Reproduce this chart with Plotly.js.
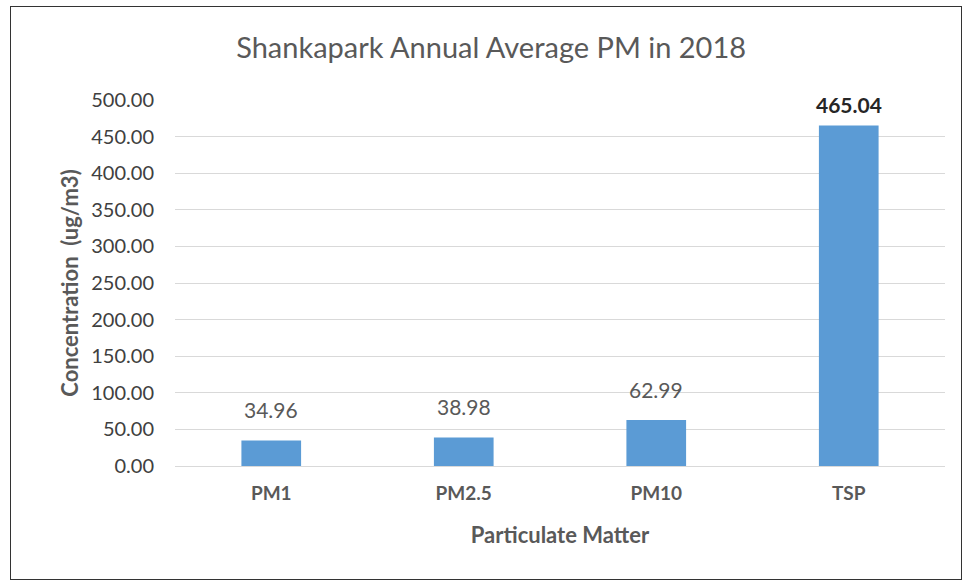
<!DOCTYPE html>
<html>
<head>
<meta charset="utf-8">
<script src="https://cdn.plot.ly/plotly-3.0.1.min.js"></script>
<style>
  body { margin: 0; background: #fff; }
  #wrap { position: relative; width: 963px; height: 582px; }
  #chartDiv { position: absolute; left: 0; top: 0; width: 963px; height: 582px; }
  #frame { position: absolute; left: 10px; top: 6px; width: 950px; height: 572px; border: 1px solid #333; pointer-events: none; }
</style>
</head>
<body>
<div id="wrap">
  <div id="chartDiv"></div>
  <div id="frame"></div>
</div>
<script>
// data ---------------------------------------------
var categories = ['PM1', 'PM2.5', 'PM10', 'TSP'];
var values = [34.96, 38.98, 62.99, 465.04];
var yTicks = [0, 50, 100, 150, 200, 250, 300, 350, 400, 450, 500];

var gray = '#595959';
var dark = '#404040';
var font = 'Lato, "Open Sans", sans-serif';

var trace = {
  type: 'bar',
  x: categories,
  y: values,
  width: 0.31,
  marker: { color: '#5b9bd5' },
  hoverinfo: 'x+y'
};

// value labels above bars, last one bold like the original
var labels = values.map((v, i) => ({
  x: categories[i],
  y: v,
  text: i == values.length - 1 ? '<b>' + v.toFixed(2) + '</b>' : v.toFixed(2),
  showarrow: false,
  yanchor: 'bottom',
  yshift: i == values.length - 1 ? 7 : 16,
  font: { family: font, size: 21, color: i == values.length - 1 ? '#262626' : gray }
}));

var layout = {
  title: {
    text: 'Shankapark Annual Average PM in 2018',
    font: { family: font, size: 29, color: gray },
    x: 0.51, xanchor: 'center', y: 0.918, yanchor: 'middle'
  },
  xaxis: {
    showgrid: false,
    showline: true,
    linecolor: '#d9d9d9',
    linewidth: 1,
    ticks: '',
    tickfont: { family: font, size: 19, color: gray, weight: 'bold' },
    ticklabelstandoff: 10,
    title: { text: '<b>Particulate Matter</b>', font: { family: font, size: 22, color: gray }, standoff: 24 }
  },
  yaxis: {
    range: [0, 500],
    tickvals: yTicks,
    ticktext: yTicks.map(v => v.toFixed(2)),
    showgrid: true,
    gridcolor: '#d9d9d9',
    zeroline: false,
    ticks: '',
    ticklabelstandoff: 20,
    tickfont: { family: font, size: 20, color: dark },
    title: { text: '<b>Concentration \u00a0(ug/m3)</b>', font: { family: font, size: 22, color: gray }, standoff: 6 }
  },
  annotations: labels,
  margin: { l: 175, r: 18, t: 100, b: 116 },
  width: 963,
  height: 582,
  paper_bgcolor: '#fff',
  plot_bgcolor: '#fff',
  showlegend: false,
  bargap: 0.69
};

Plotly.newPlot('chartDiv', [trace], layout, { displayModeBar: false, staticPlot: true });
</script>
</body>
</html>
